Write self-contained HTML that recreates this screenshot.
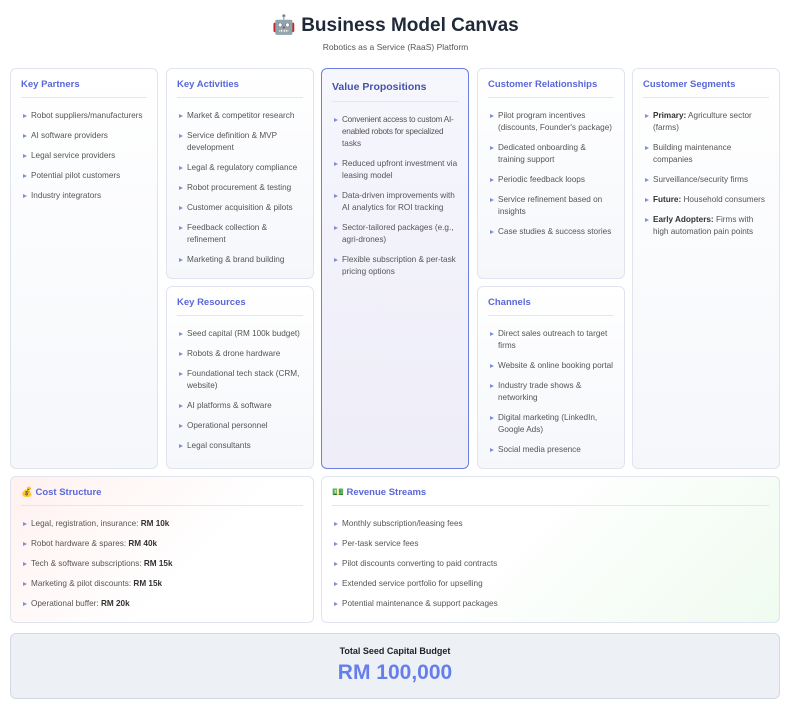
<!DOCTYPE html>
<html><head><meta charset="utf-8"><style>
*{margin:0;padding:0;box-sizing:border-box}
body{width:791px;height:707px;background:#fff;font-family:"Liberation Sans",sans-serif;position:relative;overflow:hidden;color:#4a5568}
.title{position:absolute;top:13px;left:0;width:791px;text-align:center;font-size:19px;font-weight:bold;color:#1f2937}
.sub{position:absolute;top:42px;left:0;width:791px;text-align:center;font-size:8.5px;color:#555}
.box{position:absolute;border:1px solid #dfe4ee;border-radius:6px;background:linear-gradient(180deg,#fff,#f5f7fb);padding:0 10px}
.box h3{font-size:9.5px;color:#5a67d8;font-weight:bold;line-height:12px;margin-top:10px;padding-bottom:6px;border-bottom:1px solid #e2e6ef}
ul{list-style:none;margin-top:12px}
li{font-size:8.2px;line-height:12px;margin-bottom:8px;padding-left:10px;position:relative;color:#555}
li:before{content:"";position:absolute;left:2px;top:4px;border-left:4px solid #7f8fd6;border-top:2px solid transparent;border-bottom:2px solid transparent}
b{color:#333}
.nw{white-space:nowrap;letter-spacing:-0.25px}
.vp{border:1px solid #6b7fe0;background:linear-gradient(180deg,#f6f6fd,#eeedf8)}
.vp h3{font-size:10.5px;color:#4552a8;margin-top:12px;padding-bottom:8px}
</style></head><body>
<div class="title">🤖 Business Model Canvas</div>
<div class="sub">Robotics as a Service (RaaS) Platform</div>

<div class="box" style="left:10px;top:68px;width:148px;height:401px"><h3>Key Partners</h3><ul>
<li>Robot suppliers/manufacturers</li><li>AI software providers</li><li>Legal service providers</li><li>Potential pilot customers</li><li>Industry integrators</li></ul></div>

<div class="box" style="left:166px;top:68px;width:148px;height:211px"><h3>Key Activities</h3><ul>
<li>Market &amp; competitor research</li><li>Service definition &amp; MVP development</li><li>Legal &amp; regulatory compliance</li><li>Robot procurement &amp; testing</li><li>Customer acquisition &amp; pilots</li><li>Feedback collection &amp; refinement</li><li>Marketing &amp; brand building</li></ul></div>

<div class="box" style="left:166px;top:286px;width:148px;height:183px"><h3>Key Resources</h3><ul>
<li>Seed capital (RM 100k budget)</li><li>Robots &amp; drone hardware</li><li>Foundational tech stack (CRM, website)</li><li>AI platforms &amp; software</li><li>Operational personnel</li><li>Legal consultants</li></ul></div>

<div class="box vp" style="left:321px;top:68px;width:148px;height:401px"><h3>Value Propositions</h3><ul>
<li><span class="nw">Convenient access to custom AI-</span><br><span class="nw">enabled robots for specialized</span><br>tasks</li><li>Reduced upfront investment via leasing model</li><li>Data-driven improvements with AI analytics for ROI tracking</li><li>Sector-tailored packages (e.g., agri-drones)</li><li>Flexible subscription &amp; per-task pricing options</li></ul></div>

<div class="box" style="left:477px;top:68px;width:148px;height:211px"><h3>Customer Relationships</h3><ul>
<li>Pilot program incentives (discounts, Founder's package)</li><li>Dedicated onboarding &amp; training support</li><li>Periodic feedback loops</li><li>Service refinement based on insights</li><li>Case studies &amp; success stories</li></ul></div>

<div class="box" style="left:477px;top:286px;width:148px;height:183px"><h3>Channels</h3><ul>
<li>Direct sales outreach to target firms</li><li>Website &amp; online booking portal</li><li>Industry trade shows &amp; networking</li><li>Digital marketing (LinkedIn, Google Ads)</li><li>Social media presence</li></ul></div>

<div class="box" style="left:632px;top:68px;width:148px;height:401px"><h3>Customer Segments</h3><ul>
<li><b>Primary:</b> Agriculture sector (farms)</li><li>Building maintenance companies</li><li>Surveillance/security firms</li><li><b>Future:</b> Household consumers</li><li><b>Early Adopters:</b> Firms with high automation pain points</li></ul></div>

<div class="box" style="left:10px;top:476px;width:304px;height:147px;background:linear-gradient(135deg,#fff1f0,#fff 60%)"><h3>💰 Cost Structure</h3><ul>
<li>Legal, registration, insurance: <b>RM 10k</b></li><li>Robot hardware &amp; spares: <b>RM 40k</b></li><li>Tech &amp; software subscriptions: <b>RM 15k</b></li><li>Marketing &amp; pilot discounts: <b>RM 15k</b></li><li>Operational buffer: <b>RM 20k</b></li></ul></div>

<div class="box" style="left:321px;top:476px;width:459px;height:147px;background:linear-gradient(135deg,#fff 40%,#effbf0)"><h3>💵 Revenue Streams</h3><ul>
<li>Monthly subscription/leasing fees</li><li>Per-task service fees</li><li>Pilot discounts converting to paid contracts</li><li>Extended service portfolio for upselling</li><li>Potential maintenance &amp; support packages</li></ul></div>

<div style="position:absolute;left:10px;top:633px;width:770px;height:66px;border:1px solid #d3d9e4;border-radius:6px;background:#edf1f6;text-align:center">
<div style="font-size:9px;font-weight:bold;color:#222;margin-top:12px">Total Seed Capital Budget</div>
<div style="font-size:21px;font-weight:bold;color:#667eea;margin-top:5px">RM 100,000</div></div>
</body></html>
